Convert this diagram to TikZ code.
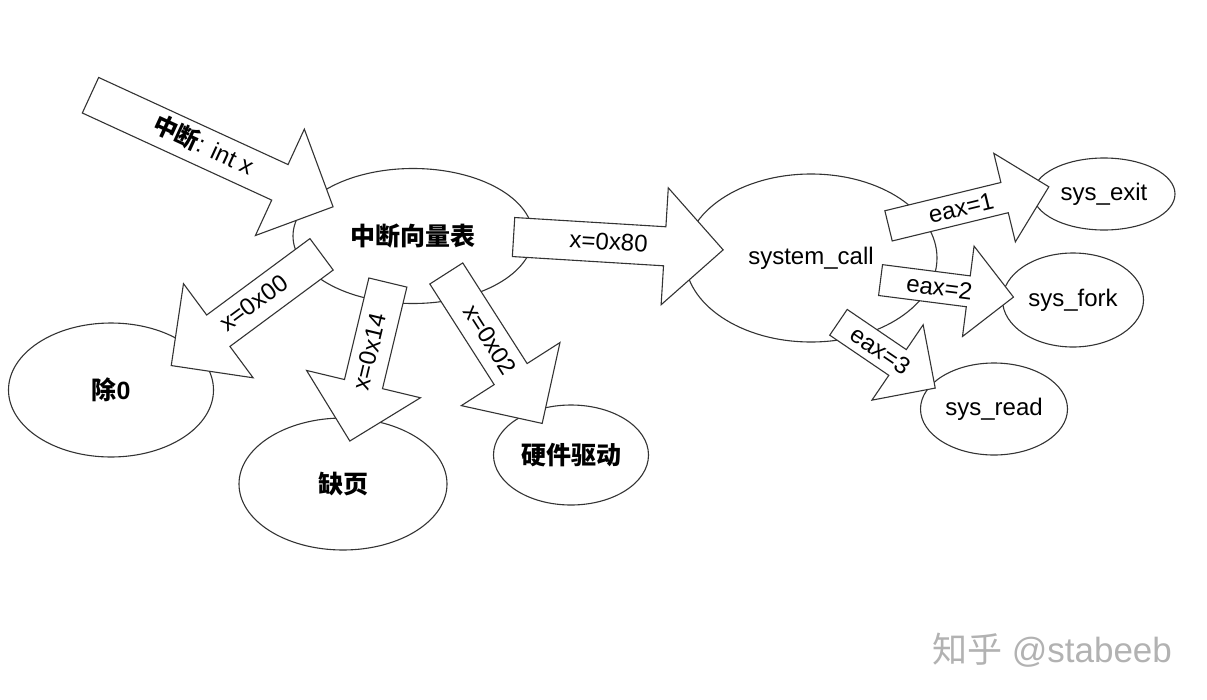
\documentclass[tikz,border=0pt]{standalone}
\usepackage{fontspec}
\setmainfont{Liberation Sans}
\newfontfamily\cjk{Noto Sans CJK SC}
\usetikzlibrary{shapes.geometric, shapes.arrows}

\begin{document}
\begin{tikzpicture}[
  x=1pt, y=-1pt, line width=1.1pt,
  bubble/.style={ellipse,draw=black!80,inner sep=0pt,font=\fontsize{24}{26}\selectfont},
  fat/.style={single arrow,draw=black!80,fill=white,anchor=tail,inner xsep=4pt,
    text height=17pt,text depth=3pt,inner ysep=9pt,single arrow head extend=39pt,
    font=\fontsize{24}{26}\selectfont},
  slim/.style={fat,text depth=1pt,inner ysep=6pt,single arrow head extend=30pt},
  back/.style={shape border rotate=180},
  han/.style={font=\cjk\bfseries\fontsize{25}{27}\selectfont}
]
  \useasboundingbox (0,0) rectangle (1207,699);

  \node[bubble,han,minimum width=240,minimum height=135] (ivt) at (413,236) {中断向量表};
  \node[bubble,minimum width=252,minimum height=168] (sc) at (811,258) {system\_call};
  \node[bubble,han,minimum width=205,minimum height=134] (div) at (111,390) {除\rmfamily 0};
  \node[bubble,han,minimum width=208,minimum height=132] (pf) at (343,484) {缺页};
  \node[bubble,han,minimum width=155,minimum height=100] (hw) at (571,455) {硬件驱动};
  \node[bubble,minimum width=142,minimum height=72] (exit) at (1104,194) {sys\_exit};
  \node[bubble,minimum width=141,minimum height=94] (fork) at (1073,300) {sys\_fork};
  \node[bubble,minimum width=147,minimum height=92] (read) at (994,409) {sys\_read};

  \node[fat,rotate=-24.7,minimum height=267] (aint) at (90,95) {{\cjk\bfseries 中断}: int x};
  \node[fat,rotate=-3.5,minimum height=210] (a80) at (513,237) {x=0x80};
  \node[fat,back,rotate=36.5,minimum height=187] (a00) at (322,254) {x=0x00};
  \node[fat,back,rotate=76.5,minimum height=163] (a14) at (388,282) {x=0x14};
  \node[fat,rotate=-57.4,minimum height=178] (a02) at (446,273) {x=0x02};
  \node[slim,rotate=13.7,minimum height=165] (e1) at (888,226) {eax=1};
  \node[slim,rotate=-7.3,minimum height=134] (e2) at (880,280) {eax=2};
  \node[slim,rotate=-34.2,minimum height=117] (e3) at (838,322) {eax=3};

  \node[text=black!30,font=\fontsize{35}{37}\selectfont] (mark) at (1052,650) {{\cjk 知乎} @stabeeb};
\end{tikzpicture}
\end{document}
